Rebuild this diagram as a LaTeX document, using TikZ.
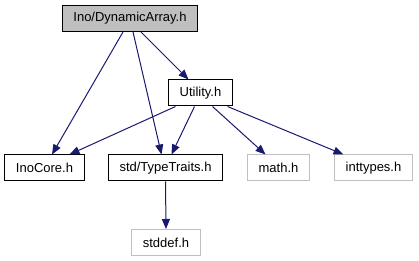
\documentclass[tikz,border=0pt]{standalone}
\usepackage{fontspec}
\setmainfont{Liberation Sans}
\usetikzlibrary{arrows.meta}
\definecolor{edgeblue}{HTML}{191970}
\definecolor{boxgray}{HTML}{BFBFBF}

\begin{document}
\begin{tikzpicture}[x=1pt, y=-1pt,
    file/.style={draw=black, line width=1pt, minimum height=26pt, inner xsep=11pt,
      font=\fontsize{13pt}{15pt}\selectfont},
    sysfile/.style={file, draw=boxgray},
    inc/.style={draw=edgeblue, line width=1pt, -{Triangle[length=10pt, width=8pt]}}]
  \useasboundingbox (0,0) rectangle (419,261);
  % files
  \node [file, fill=boxgray] (top) at (130,18.5) {Ino/DynamicArray.h};
  \node [file] (util) at (200.5,93) {Utility.h};
  \node [file] (core) at (44.5,168) {InoCore.h};
  \node [file] (traits) at (165.5,168) {std/TypeTraits.h};
  \node [sysfile] (math) at (278.5,168) {math.h};
  \node [sysfile] (inttypes) at (373.5,168) {inttypes.h};
  \node [sysfile] (stddef) at (166,242.5) {stddef.h};
  % includes
  \draw [inc] ([xshift=-7pt]top.south) -- ([xshift=7.5pt]core.north);
  \draw [inc] ([xshift=3pt]top.south) -- ([xshift=-4pt]traits.north);
  \draw [inc] ([xshift=11pt]top.south) -- ([xshift=-12pt]util.north);
  \draw [inc] ([xshift=-25pt]util.south) -- ([xshift=25pt]core.north);
  \draw [inc] ([xshift=-6pt]util.south) -- ([xshift=6pt]traits.north);
  \draw [inc] ([xshift=12pt]util.south) -- ([xshift=-13pt]math.north);
  \draw [inc] ([xshift=27pt]util.south) -- ([xshift=-30pt]inttypes.north);
  \draw [inc] (traits.south) -- (stddef.north);
\end{tikzpicture}
\end{document}
